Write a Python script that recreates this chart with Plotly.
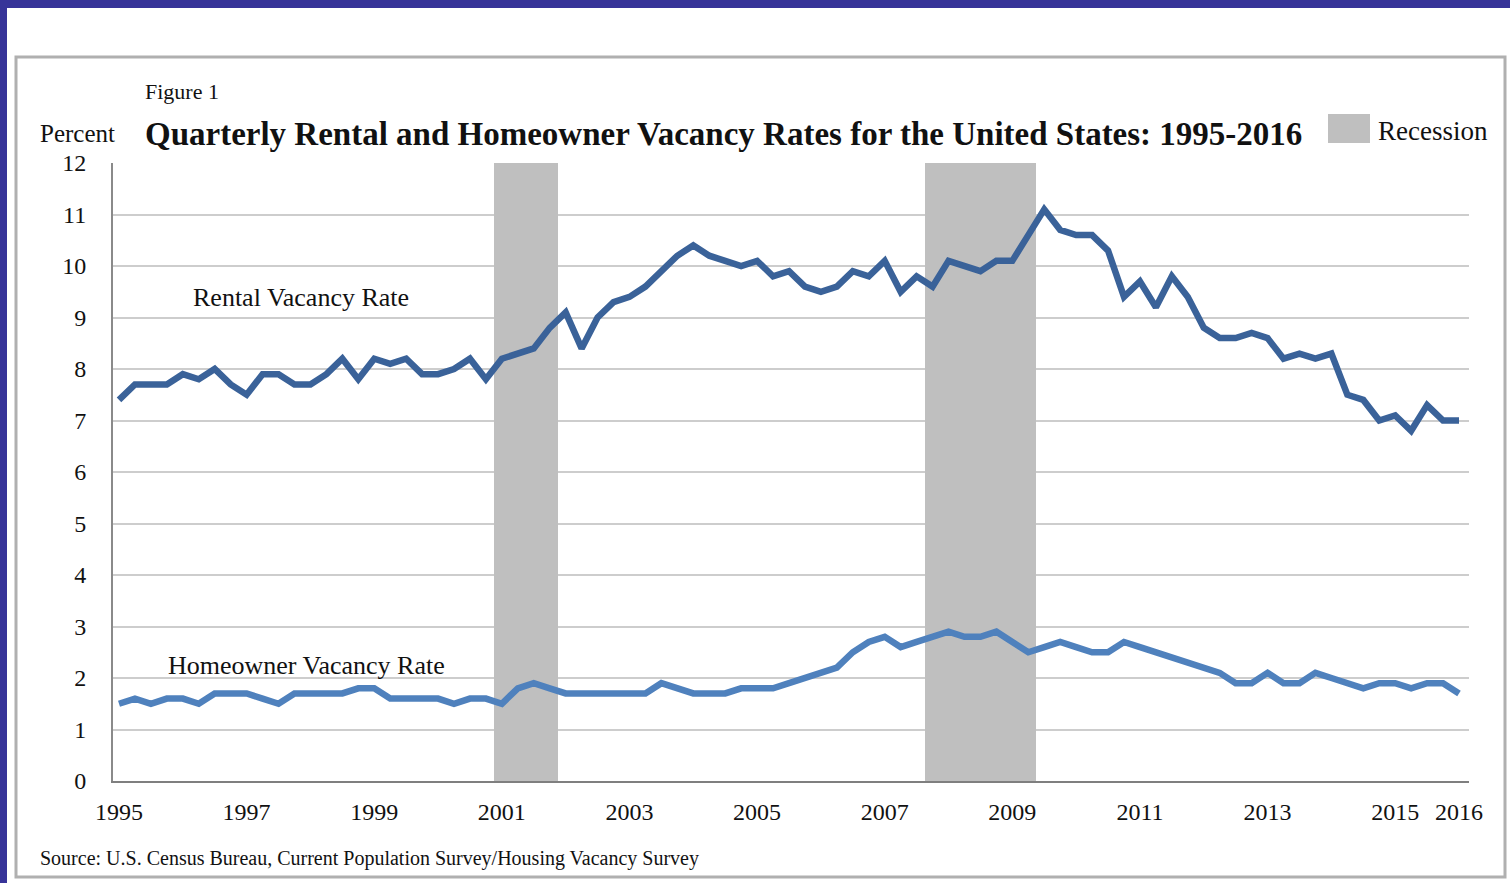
import plotly.graph_objects as go

# quarterly data, 1995Q1 .. 2016Q1
start_year = 1995
rental_rate = [
    7.4, 7.7, 7.7, 7.7,   7.9, 7.8, 8.0, 7.7,   7.5, 7.9, 7.9, 7.7,
    7.7, 7.9, 8.2, 7.8,   8.2, 8.1, 8.2, 7.9,   7.9, 8.0, 8.2, 7.8,
    8.2, 8.3, 8.4, 8.8,   9.1, 8.4, 9.0, 9.3,   9.4, 9.6, 9.9, 10.2,
    10.4, 10.2, 10.1, 10.0,   10.1, 9.8, 9.9, 9.6,   9.5, 9.6, 9.9, 9.8,
    10.1, 9.5, 9.8, 9.6,   10.1, 10.0, 9.9, 10.1,   10.1, 10.6, 11.1, 10.7,
    10.6, 10.6, 10.3, 9.4,   9.7, 9.2, 9.8, 9.4,   8.8, 8.6, 8.6, 8.7,
    8.6, 8.2, 8.3, 8.2,   8.3, 7.5, 7.4, 7.0,   7.1, 6.8, 7.3, 7.0,
    7.0,
]
homeowner_rate = [
    1.5, 1.6, 1.5, 1.6,   1.6, 1.5, 1.7, 1.7,   1.7, 1.6, 1.5, 1.7,
    1.7, 1.7, 1.7, 1.8,   1.8, 1.6, 1.6, 1.6,   1.6, 1.5, 1.6, 1.6,
    1.5, 1.8, 1.9, 1.8,   1.7, 1.7, 1.7, 1.7,   1.7, 1.7, 1.9, 1.8,
    1.7, 1.7, 1.7, 1.8,   1.8, 1.8, 1.9, 2.0,   2.1, 2.2, 2.5, 2.7,
    2.8, 2.6, 2.7, 2.8,   2.9, 2.8, 2.8, 2.9,   2.7, 2.5, 2.6, 2.7,
    2.6, 2.5, 2.5, 2.7,   2.6, 2.5, 2.4, 2.3,   2.2, 2.1, 1.9, 1.9,
    2.1, 1.9, 1.9, 2.1,   2.0, 1.9, 1.8, 1.9,   1.9, 1.8, 1.9, 1.9,
    1.7,
]
recession_quarters = ["2001Q1", "2001Q2", "2001Q3", "2001Q4",
                      "2007Q4", "2008Q1", "2008Q2", "2008Q3", "2008Q4",
                      "2009Q1", "2009Q2"]
year_ticks = [1995, 1997, 1999, 2001, 2003, 2005, 2007, 2009, 2011, 2013, 2015, 2016]

quarters = [start_year + i / 4 for i in range(len(rental_rate))]
rec_x = [int(q[:4]) + (int(q[-1]) - 1) / 4 for q in recession_quarters]

# page geometry (pixels) -> paper coords
W, H = 1510, 883
L, R, T, B = 113, 1469, 163, 781


def px(x):
    return (x - L) / (R - L)


def py(y):
    return (B - y) / (B - T)


SERIF = "Liberation Serif, Times New Roman, serif"
INK = "#111111"

fig = go.Figure()

# recession shading as quarterly bars (as the original spreadsheet chart does)
fig.add_trace(go.Bar(x=rec_x, y=[12] * len(rec_x), width=0.25,
                     marker=dict(color="#bfbfbf", line=dict(width=0)),
                     showlegend=False, hoverinfo="skip"))

fig.add_trace(go.Scatter(x=quarters, y=rental_rate, mode="lines",
                         line=dict(color="#3a6299", width=6.5),
                         name="Rental Vacancy Rate", showlegend=False))
fig.add_trace(go.Scatter(x=quarters, y=homeowner_rate, mode="lines",
                         line=dict(color="#4f81bd", width=6.5),
                         name="Homeowner Vacancy Rate", showlegend=False))

x_left = 1995 - (119 - L) / 63.81
x_right = 2016 + (R - 1459) / 63.81

fig.update_xaxes(range=[x_left, x_right], tickvals=year_ticks,
                 ticktext=[str(y) for y in year_ticks],
                 showgrid=False, zeroline=False,
                 showline=True, linecolor="#7f7f7f", linewidth=2,
                 ticks="", ticklabelstandoff=8,
                 tickfont=dict(family=SERIF, size=24, color=INK))
fig.update_yaxes(range=[0, 12], tickvals=list(range(13)),
                 showgrid=True, gridcolor="#cdcdcd", gridwidth=2,
                 zeroline=False, showline=True, linecolor="#8a8a8a", linewidth=2,
                 ticks="", ticklabelstandoff=20,
                 tickfont=dict(family=SERIF, size=24, color=INK))

shapes = [
    # outer frame
    dict(type="rect", xref="paper", yref="paper",
         x0=px(16), x1=px(1505), y0=py(877), y1=py(57),
         line=dict(color="#b0b0b0", width=3), layer="below"),
    # blue slide border (top and left)
    dict(type="rect", xref="paper", yref="paper",
         x0=px(0), x1=px(W), y0=py(8), y1=py(-2),
         fillcolor="#373499", line=dict(width=0)),
    dict(type="rect", xref="paper", yref="paper",
         x0=px(-2), x1=px(7), y0=py(H + 2), y1=py(-2),
         fillcolor="#373499", line=dict(width=0)),
    # legend swatch
    dict(type="rect", xref="paper", yref="paper",
         x0=px(1328), x1=px(1370), y0=py(143), y1=py(114),
         fillcolor="#bfbfbf", line=dict(width=0)),
]


def label(text, x, y, size, bold=False):
    if bold:
        text = "<b>" + text + "</b>"
    return dict(text=text, xref="paper", yref="paper", x=px(x), y=py(y),
                xanchor="left", yanchor="middle", showarrow=False,
                font=dict(family=SERIF, size=size, color=INK))


annotations = [
    label("Figure 1", 143, 92, 22),
    label("Percent", 38, 133, 25),
    label("Quarterly Rental and Homeowner Vacancy Rates for the United States: 1995-2016",
          143, 134, 33, bold=True),
    label("Recession", 1376, 131, 27),
    label("Rental Vacancy Rate", 191, 297, 26),
    label("Homeowner Vacancy Rate", 166, 665, 26),
    label("Source: U.S. Census Bureau, Current Population Survey/Housing Vacancy Survey",
          38, 858, 20),
]

fig.update_layout(
    width=W, height=H,
    margin=dict(l=L, r=W - R, t=T, b=H - B, autoexpand=False),
    paper_bgcolor="white", plot_bgcolor="white",
    bargap=0, showlegend=False,
    shapes=shapes, annotations=annotations,
)

# the page body has a default 8px margin; drop it so the figure sits at the corner
fig.write_html("out.html", config={"displayModeBar": False},
               post_script="document.body.style.margin='0';document.body.style.overflow='hidden';")
